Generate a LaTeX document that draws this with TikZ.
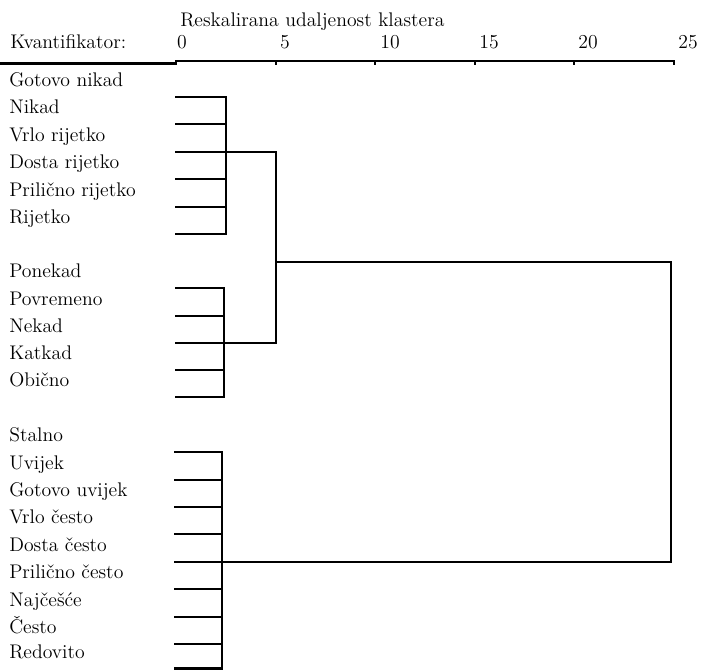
\documentclass[tikz,border=0pt]{standalone}
\begin{document}
\begin{tikzpicture}[x=0.75pt, y=-0.75pt, font=\fontsize{14.8}{17}\selectfont,
    crta/.style={line width=1.9pt},
    oznaka/.style={anchor=base west, inner sep=0pt},
    broj/.style={anchor=base, inner sep=0pt}]
    \useasboundingbox (0,0) rectangle (707,670);

    % Naslov i os
    \node[oznaka] (naslov) at (180,27) {Reskalirana udaljenost klastera};
    \node[oznaka] (kvant) at (10,49) {Kvantifikator:};
    \node[broj] (b0) at (182,49) {0};
    \node[broj] (b5) at (285,49) {5};
    \node[broj] (b10) at (390,49) {10};
    \node[broj] (b15) at (489,49) {15};
    \node[broj] (b20) at (588,49) {20};
    \node[broj] (b25) at (688,49) {25};

    \coordinate (os) at (0,63.5);
    \coordinate (os0) at (176,61);
    \coordinate (os5) at (276,61);
    \coordinate (os10) at (375,61);
    \coordinate (os15) at (475,61);
    \coordinate (os20) at (574,61);
    \coordinate (os25) at (674,61);
    \draw[crta] (os) -| (os0) -- (os25) -- ++(0,4);
    \draw[crta] (os5) -- ++(0,4);
    \draw[crta] (os10) -- ++(0,4);
    \draw[crta] (os15) -- ++(0,4);
    \draw[crta] (os20) -- ++(0,4);

    % Kvantifikatori
    \node[oznaka] (t1) at (9,86.5) {Gotovo nikad};
    \node[oznaka] (t2) at (9,113.5) {Nikad};
    \node[oznaka] (t3) at (9,141.5) {Vrlo rijetko};
    \node[oznaka] (t4) at (9,168.5) {Dosta rijetko};
    \node[oznaka] (t5) at (9,196.5) {Prilično rijetko};
    \node[oznaka] (t6) at (9,223.5) {Rijetko};

    \node[oznaka] (t7) at (9,277.5) {Ponekad};
    \node[oznaka] (t8) at (9,305.5) {Povremeno};
    \node[oznaka] (t9) at (9,332.5) {Nekad};
    \node[oznaka] (t10) at (9,359.5) {Katkad};
    \node[oznaka] (t11) at (9,386.5) {Obično};

    \node[oznaka] (t12) at (9,441.5) {Stalno};
    \node[oznaka] (t13) at (9,469.5) {Uvijek};
    \node[oznaka] (t14) at (9,496.5) {Gotovo uvijek};
    \node[oznaka] (t15) at (9,523.5) {Vrlo često};
    \node[oznaka] (t16) at (9,551.5) {Dosta često};
    \node[oznaka] (t17) at (9,578.5) {Prilično često};
    \node[oznaka] (t18) at (9,606.5) {Najčešće};
    \node[oznaka] (t19) at (9,633.5) {Često};
    \node[oznaka] (t20) at (9,658) {Redovito};

    % Listovi
    \coordinate (l1) at (175,97);
    \coordinate (l2) at (175,124);
    \coordinate (l3) at (175,152);
    \coordinate (l4) at (175,179);
    \coordinate (l5) at (175,207);
    \coordinate (l6) at (175,234);
    \coordinate (l7) at (175,288);
    \coordinate (l8) at (175,316);
    \coordinate (l9) at (175,343);
    \coordinate (l10) at (175,370);
    \coordinate (l11) at (175,397);
    \coordinate (l12) at (174,452);
    \coordinate (l13) at (174,480);
    \coordinate (l14) at (174,507);
    \coordinate (l15) at (174,534);
    \coordinate (l16) at (174,562);
    \coordinate (l17) at (174,589);
    \coordinate (l18) at (174,617);
    \coordinate (l19) at (174,644);
    \coordinate (l20) at (174,668.5);

    % Spajanja
    \coordinate (g1) at (226,152);
    \coordinate (g2) at (224,343);
    \coordinate (g3) at (222,562);
    \coordinate (g12) at (276,262);
    \coordinate (gsve) at (671,262);

    % Dendrogram
    \draw[crta] (l1) -| (g1) |- (l6);
    \draw[crta] (l2) -- (l2 -| g1);
    \draw[crta] (l3) -- (l3 -| g1);
    \draw[crta] (l4) -- (l4 -| g1);
    \draw[crta] (l5) -- (l5 -| g1);

    \draw[crta] (l7) -| (g2) |- (l11);
    \draw[crta] (l8) -- (l8 -| g2);
    \draw[crta] (l9) -- (l9 -| g2);
    \draw[crta] (l10) -- (l10 -| g2);

    \draw[crta] (l12) -| (g3 |- l20) -- (l20);
    \draw[crta] (l13) -- (l13 -| g3);
    \draw[crta] (l14) -- (l14 -| g3);
    \draw[crta] (l15) -- (l15 -| g3);
    \draw[crta] (l16) -- (l16 -| g3);
    \draw[crta] (l17) -- (l17 -| g3);
    \draw[crta] (l18) -- (l18 -| g3);
    \draw[crta] (l19) -- (l19 -| g3);

    \draw[crta] (g1) -| (g12) |- (g2);
    \draw[crta] (g12) -- (gsve) |- (g3);
\end{tikzpicture}
\end{document}
